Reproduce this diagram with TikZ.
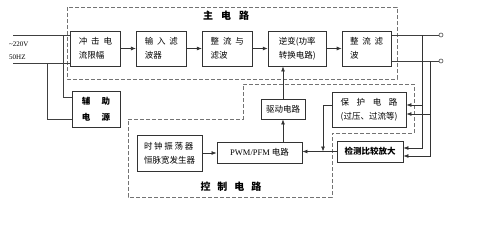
\documentclass[tikz,border=0pt]{standalone}
\usepackage{fontspec}
\setmainfont{Noto Sans CJK SC}
\newfontfamily\latinfont{Liberation Serif}
\usetikzlibrary{arrows.meta, positioning}
\newcommand\cjkgap[1][0.45em]{\hspace{#1}}

\begin{document}
\begin{tikzpicture}[
    x=1pt, y=-1pt,
    font=\fontsize{8.5}{14}\selectfont,
    box/.style={rectangle, draw=black!80, fill=white, line width=0.9pt, align=left, inner sep=2pt, minimum width=50pt, minimum height=35pt},
    arrow/.style={-{Latex[length=5pt,width=4pt]}, line width=0.75pt, draw=black!80},
    wire/.style={line width=0.75pt, draw=black!75},
    region/.style={dash pattern=on 4pt off 2pt, line width=0.8pt, draw=black!55},
    term/.style={circle, draw=black!70, line width=0.6pt, fill=white, inner sep=0pt, minimum size=4pt},
    title/.style={font=\fontsize{10}{12}\selectfont\bfseries}
]
\useasboundingbox (0,0) rectangle (500,225);

% Dashed regions
\draw[region] (67,7) rectangle (397,79);
\draw[region] (128,119) -- (243,119) -- (243,84) -- (414,84) -- (414,133) -- (332,133) -- (332,197) -- (128,197) -- cycle;
\node[title] (main_lbl) at (226,16) {主\cjkgap[0.8em]电\cjkgap[0.8em]路};
\node[title] (ctrl_lbl) at (231,187) {控\cjkgap[0.7em]制\cjkgap[0.7em]电\cjkgap[0.7em]路};

% Main circuit row
\node[box] (m_inrush) at (95.5,48.5) {冲\cjkgap 击\cjkgap 电\\流限幅};
\node[box, right=15pt of m_inrush] (m_filter) {输\cjkgap 入\cjkgap 滤\\波器};
\node[box, right=15pt of m_filter] (m_rect) {整\cjkgap 流\cjkgap 与\\滤波};
\node[box, right=15pt of m_rect, minimum width=58pt] (m_inv) {逆变(功率\\转换电路)};
\node[box, right=15pt of m_inv, minimum width=49pt] (m_out) {整\cjkgap 流\cjkgap 滤\\波};

% Auxiliary supply
\node[box, minimum width=48pt, minimum height=36pt, align=center, font=\fontsize{8.5}{16}\selectfont\bfseries] (aux_power) at (96,109) {辅\cjkgap[1.3em]助\\电\cjkgap[1.3em]源};

% Control circuit
\node[box, minimum width=44pt, minimum height=20pt] (c_drive) at (283,109) {驱动电路};
\node[box, minimum width=85pt, minimum height=21pt] (c_pwm) at (259.5,152.5) {{\latinfont PWM/PFM} 电路};
\node[box, minimum width=65pt, minimum height=36pt] (c_clock) at (169.5,153) {时\cjkgap[0.2em]钟\cjkgap[0.2em]振\cjkgap[0.2em]荡\cjkgap[0.2em]器\\恒脉宽发生器};
\node[box, minimum width=74pt, minimum height=35pt, align=center] (c_prot) at (369,109.5) {保\cjkgap[0.9em]护\cjkgap[0.9em]电\cjkgap[0.9em]路\\(过压、过流等)};
\node[box, minimum width=66pt, minimum height=21pt, font=\fontsize{8.5}{14}\selectfont\bfseries] (c_detect) at (370,151.5) {检测比较放大};

% Mains input
\coordinate (ac_l) at (13,35);
\coordinate (ac_n) at (13,63);
\coordinate (tap_l) at (63,35);
\coordinate (tap_n) at (47,63);
\node[font=\latinfont\fontsize{7}{8}\selectfont, anchor=west, inner sep=0pt] (ac_volt) at (9,44) {\textasciitilde 220V};
\node[font=\latinfont\fontsize{7}{8}\selectfont, anchor=west, inner sep=0pt] (ac_freq) at (9,57) {50HZ};
\draw[wire] (ac_l) -- (ac_l -| m_inrush.west);
\draw[wire] (ac_n) -- (ac_n -| m_inrush.west);
\draw[wire] (tap_l) |- ([yshift=12pt]aux_power.west);
\draw[wire] (tap_n) |- ([yshift=-10pt]aux_power.west);

% Main chain
\draw[arrow] (m_inrush) -- (m_filter);
\draw[arrow] (m_filter) -- (m_rect);
\draw[arrow] (m_rect) -- (m_inv);
\draw[arrow] (m_inv) -- (m_out);

% Output terminals
\node[term] (out_p) at (441,35) {};
\node[term] (out_n) at (441,61) {};
\draw[wire] (out_p -| m_out.east) -- (out_p);
\draw[wire] (out_n -| m_out.east) -- (out_n);

% Feedback
\coordinate (tap_p) at (422,35);
\coordinate (tap_q) at (430,61);
\draw[arrow] (tap_p) |- ([yshift=3.5pt]c_detect.east);
\draw[arrow] (tap_q) |- ([yshift=-4.5pt]c_detect.east);
\draw[arrow] ([yshift=4.5pt]c_prot.east -| tap_p) -- ([yshift=4.5pt]c_prot.east);
\draw[arrow] ([yshift=-4.5pt]c_prot.east -| tap_q) -- ([yshift=-4.5pt]c_prot.east);

% Control links
\coordinate (prot_join) at (323,151.5);
\draw[arrow] (c_clock.east) -- (c_clock.east -| c_pwm.west);
\draw[arrow] (c_detect.west) -- (c_detect.west -| c_pwm.east);
\draw[arrow] ([yshift=4.5pt]c_prot.west) -| (prot_join);
\draw[arrow] (c_pwm.north -| c_drive) -- (c_drive.south);
\draw[arrow] (c_drive.north) -- (c_drive.north |- m_inv.south);

\end{tikzpicture}
\end{document}
